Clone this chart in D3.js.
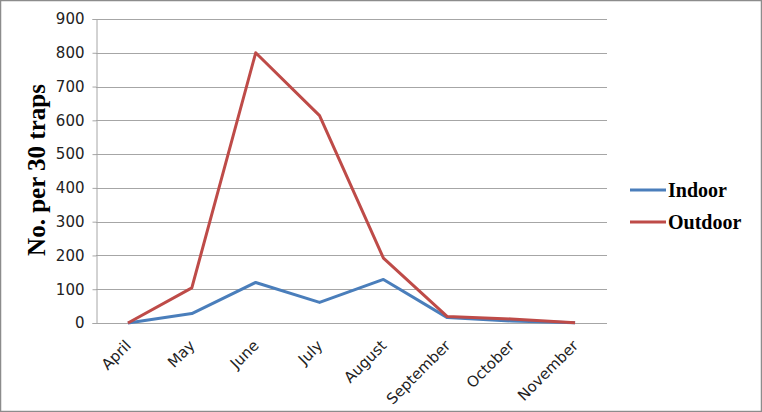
<!DOCTYPE html>
<html><head><meta charset="utf-8">
<script src="https://cdn.jsdelivr.net/npm/d3@7"></script>
<style>body{margin:0;background:#fff}svg{display:block}</style>
</head><body><svg id="c" width="762" height="412"></svg>
<script>
const months = ["April","May","June","July","August","September","October","November"];
const indoor = [0, 28, 120, 61, 129, 16, 6, 1];
const outdoor = [0, 104, 800, 614, 192, 19, 12, 1];
const yTicks = [0,100,200,300,400,500,600,700,800,900];
const seriesNames = ["Indoor","Outdoor"];
const colors = ["#4a7ebb","#be4b48"];

const svg = d3.select("#c");
svg.append("rect").attr("x",0.5).attr("y",0.5).attr("width",761).attr("height",411)
  .attr("fill","#fff").attr("stroke","#8c8c8c").attr("stroke-width",1.5);

const L=96, R=607, T=19, B=323;
const x = d3.scaleBand().domain(months).range([L,R]);
const y = d3.scaleLinear().domain([0,900]).range([B,T]);

// gridlines
svg.append("g").selectAll("line").data(yTicks).join("line")
  .attr("x1",L).attr("x2",R).attr("y1",d=>Math.round(y(d))+0.5).attr("y2",d=>Math.round(y(d))+0.5)
  .attr("stroke","#a6a6a6").attr("stroke-width",1);

// y axis
const ya = svg.append("g").attr("transform",`translate(${L+0.5},0)`)
  .call(d3.axisLeft(y).tickValues(yTicks).tickSize(4).tickPadding(8));
ya.select(".domain").attr("stroke","#a6a6a6");
ya.selectAll(".tick line").attr("stroke","#a6a6a6");
ya.selectAll("text").attr("font-family","'DejaVu Sans', sans-serif").attr("font-size",15).attr("fill","#222");

// x axis
const xa = svg.append("g").attr("transform",`translate(0,${B+0.5})`)
  .call(d3.axisBottom(x).tickSize(0).tickPadding(8));
xa.select(".domain").remove();
xa.selectAll("text").attr("font-family","'DejaVu Sans', sans-serif").attr("font-size",15).attr("fill","#222")
  .attr("text-anchor","end").attr("transform","translate(-8,11) rotate(-45)").attr("dy","0.6em").attr("dx","0");

const line = d3.line().x((d,i)=>x(months[i])+x.bandwidth()/2).y(d=>y(d));
[indoor,outdoor].forEach((s,k)=>{
  svg.append("path").datum(s).attr("d",line).attr("fill","none")
    .attr("stroke",colors[k]).attr("stroke-width",3).attr("stroke-linejoin","round");
});

// y title
svg.append("text").attr("transform","translate(45,170) rotate(-90)")
  .attr("text-anchor","middle").attr("font-family","'Liberation Serif', serif")
  .attr("font-weight","bold").attr("font-size",25).attr("fill","#000").text("No. per 30 traps");

// legend
const lg = svg.append("g");
seriesNames.forEach((n,k)=>{
  const yy = 190 + k*32;
  lg.append("line").attr("x1",630).attr("x2",666).attr("y1",yy).attr("y2",yy)
    .attr("stroke",colors[k]).attr("stroke-width",3);
  lg.append("text").attr("x",668).attr("y",yy+7).attr("font-family","'Liberation Serif', serif")
    .attr("font-weight","bold").attr("font-size",20).attr("fill","#000").text(n);
});
</script></body></html>
